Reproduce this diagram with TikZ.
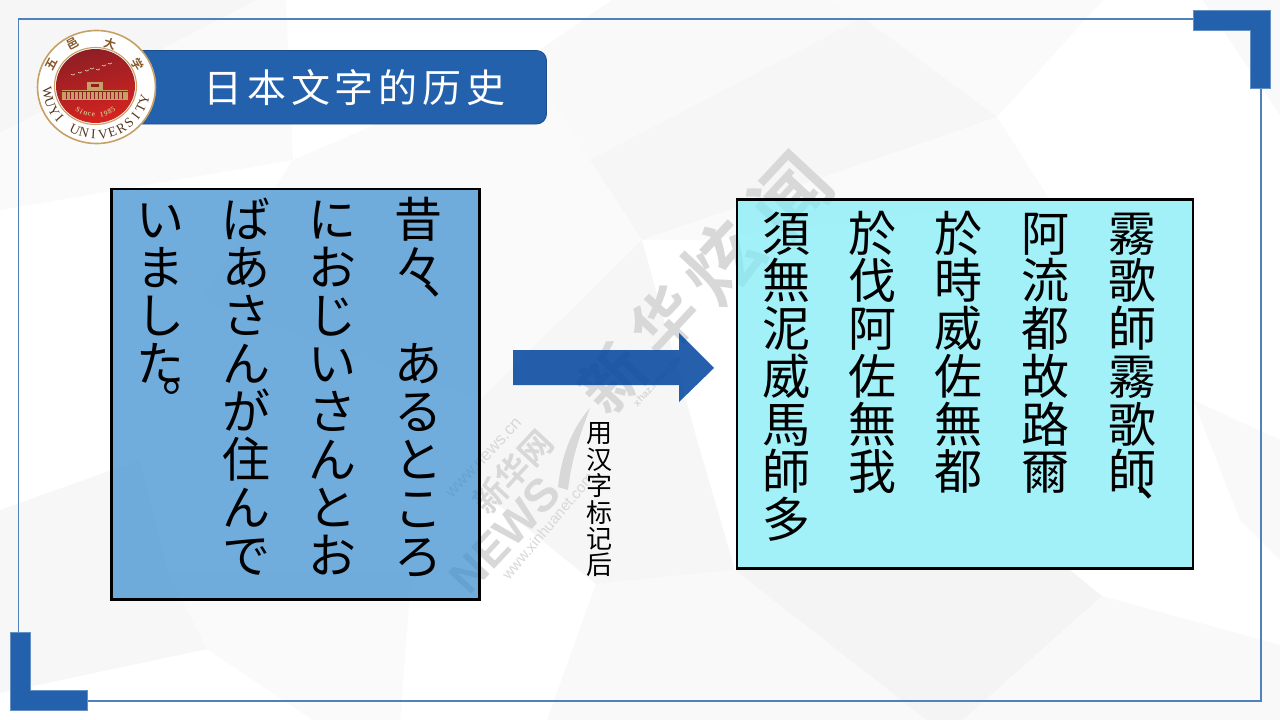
\documentclass[tikz,border=0pt]{standalone}
\usepackage{fontspec}
\usetikzlibrary{calc}
\setmainfont{Liberation Serif}
\newfontfamily\jpfont{Noto Sans CJK JP}
\newfontfamily\cnfont{Noto Sans CJK SC}
\newfontfamily\cnbold{Noto Sans CJK SC Bold}
\newfontfamily\sansfont{Liberation Sans}
\definecolor{blueA}{RGB}{35,97,173}
\definecolor{arrowC}{RGB}{0,68,158}
\definecolor{frameC}{RGB}{79,129,189}
\definecolor{goldC}{RGB}{198,160,100}
\definecolor{wmC}{RGB}{216,216,216}
\definecolor{leftF}{RGB}{54,139,206}
\definecolor{rightF}{RGB}{124,236,246}
\definecolor{redA}{RGB}{142,30,36}
\definecolor{redB}{RGB}{214,36,32}
\tikzset{
  x=1pt,y=-1pt,
  big/.style={inner sep=0pt,outer sep=0pt,text height=42.2pt,text depth=5.8pt,anchor=center,font=\jpfont\fontsize{48}{48}\selectfont,text=black},
  small/.style={inner sep=0pt,outer sep=0pt,text height=22.9pt,text depth=3.1pt,anchor=center,font=\cnfont\fontsize{26}{26}\selectfont,text=black},
  panel/.style={draw=black,line width=2.6pt,inner sep=0pt,outer sep=0pt,fill opacity=.7,draw opacity=1},
  facet/.style={draw=none,fill=#1},
  wm/.style={inner sep=0pt,text=wmC,rotate=47},
  corner/.style={fill=blueA,draw=blueA!70!white,line width=.6pt},
  seal/.style={inner sep=0pt,font=\cnbold\fontsize{12}{12}\selectfont,text=brown!70!black},
}
\newcommand{\vtext}[6]{% name, style, x, y top, step, chars
  \foreach \c [count=\i from 0] in {#6}{
    \node[#2] (#1\i) at (#3,{#4+\i*#5}) {\c};
  }
}
\begin{document}
\begin{tikzpicture}
\useasboundingbox (0,0) rectangle (1280,720);
\fill[white] (0,0) rectangle (1280,720);
% background facets
\fill[facet=black!3.5] (0,0) -- (257,0) -- (0,133) -- cycle;
\fill[facet=black!2] (0,133) -- (257,0) -- (286,0) -- (293,160) -- (0,210) -- cycle;
\fill[facet=black!2.5] (612,0) -- (830,0) -- (997,117) -- (642,240) -- (525,60) -- cycle;
\fill[facet=black!2] (830,0) -- (1103,0) -- (997,117) -- cycle;
\fill[facet=black!3.5] (863,18) -- (997,117) -- (642,240) -- (590,160) -- cycle;
\fill[facet=black!2] (642,240) -- (997,117) -- (1048,197) -- (700,240) -- cycle;
\fill[facet=black!2.5] (1203,0) -- (1280,0) -- (1280,115) -- cycle;
\fill[facet=black!2] (293,160) -- (525,60) -- (642,240) -- (480,400) -- (200,300) -- cycle;
\fill[facet=black!3.5] (480,490) -- (596,584) -- (735,570) -- (697,440) -- (642,240) -- (480,400) -- cycle;
\fill[facet=black!3] (0,510) -- (140,460) -- (167,570) -- (207,649) -- (0,693) -- cycle;
\fill[facet=black!2] (167,570) -- (412,570) -- (400,720) -- (313,720) -- (207,649) -- cycle;
\fill[facet=black!2.5] (547,720) -- (596,584) -- (735,570) -- (927,720) -- cycle;
\fill[facet=black!4.5] (735,570) -- (1070,570) -- (1102,596) -- (963,720) -- (927,720) -- cycle;
\fill[facet=black!2.5] (1102,596) -- (1280,645) -- (1280,720) -- (963,720) -- cycle;
\fill[facet=black!2.5] (1193,400) -- (1280,440) -- (1280,560) -- (1240,520) -- cycle;
% watermark
\node[wm,font=\cnbold\fontsize{64}{64}\selectfont] (wmxin) at (612,378) {新};
\node[wm,font=\cnbold\fontsize{64}{64}\selectfont] (wmhua) at (664,320) {华};
\node[wm,font=\cnbold\fontsize{76}{76}\selectfont] (wmxuan) at (722,262) {炫};
\node[wm,font=\cnbold\fontsize{76}{76}\selectfont] (wmwen) at (790,195) {闻};
\node[wm,font=\sansfont\bfseries\fontsize{10}{10}\selectfont] (wmsub) at (657,381) {xhaz.news.cn};
\node[wm,font=\sansfont\fontsize{17}{17}\selectfont] (wmurla) at (484,458) {www.news.cn};
\node[wm,font=\cnbold\fontsize{33}{33}\selectfont] (wmnet) at (513,472) {新华网};
\node[wm,font=\sansfont\bfseries\fontsize{46}{46}\selectfont] (wmnews) at (505,535) {NEWS};
\node[wm,font=\sansfont\fontsize{15}{15}\selectfont,rotate=3] (wmurlb) at (548,526) {www.xinhuanet.com};
\fill[wmC] (558,487) .. controls (562,450) and (575,425) .. (590,408) .. controls (582,430) and (572,455) .. (568,490) -- cycle;
% frame and corners
\draw[frameC,line width=1.5pt] (18.5,19) rectangle (1261,701);
\fill[corner] (1193,10.5) -- (1270,10.5) -- (1270,88) -- (1250,88) -- (1250,30) -- (1193,30) -- cycle;
\fill[corner] (10,632) -- (30,632) -- (30,690) -- (87,690) -- (87,710) -- (10,710) -- cycle;
% title
\draw[fill=blueA,draw=blueA!80!black,line width=.8pt,rounded corners=10pt] (120,50.5) rectangle (546.5,124);
\node[inner sep=0pt,text=white,font=\cnfont\addfontfeature{LetterSpace=12}\fontsize{39}{39}\selectfont] (title) at (354.5,88) {日本文字的历史};
% logo
\fill[white] (96.5,87) ellipse [x radius=59.5,y radius=57];
\draw[goldC,line width=1.6pt] (96.5,87) ellipse [x radius=59,y radius=56.5];
\draw[goldC,line width=1.1pt] (95.5,86) ellipse [x radius=41,y radius=38.5];
\shade[left color=redA,right color=redB,shading angle=15] (95.5,86) ellipse [x radius=39.5,y radius=37];
\foreach \sx/\sy in {73/75,80/73,87/71,92/69,98/70,104/66,110/64}{
  \draw[goldC!60!white,line width=.7pt] (\sx-2,\sy-.7) -- (\sx,\sy) -- (\sx+2,\sy-1.2);
}
\fill[goldC] (62,90) rectangle (128,100);
\fill[goldC] (87,82) rectangle (103,90);
\foreach \bx in {66,70,...,124}{\draw[redA,line width=.5pt] (\bx,92) -- (\bx,99);}
\draw[redA,line width=.5pt] (62,91) -- (128,91);
\fill[redA] (91,84) rectangle (99,87);
\foreach \ch [count=\k from 0] in {S,i,n,c,e,{},1,9,8,5}{
  \pgfmathsetmacro{\ang}{125-\k*7.8}
  \node[inner sep=0pt,text=goldC!80!white,font=\bfseries\fontsize{7.5}{7.5}\selectfont,rotate={90-\ang}] (since\k) at ({95.5+30.5*cos(\ang)},{86+29*sin(\ang)}) {\ch};
}
\foreach \ch [count=\k from 0] in {W,U,Y,I,{},U,N,I,V,E,R,S,I,T,Y}{
  \pgfmathsetmacro{\ang}{172-\k*11.2}
  \node[inner sep=0pt,text=black!55!brown,font=\fontsize{13.5}{13.5}\selectfont,rotate={90-\ang}] (uni\k) at ({96.5+49.5*cos(\ang)},{87+47.5*sin(\ang)}) {\ch};
}
\node[seal,rotate=62] (s1) at (51.7,64) {五};
\node[seal,rotate=28] (s2) at (73,43.5) {邑};
\node[seal,rotate=-17] (s3) at (110,43.5) {大};
\node[seal,rotate=-60] (s4) at (138,64) {学};
% left panel
\node[panel,fill=leftF,minimum width=368.5pt,minimum height=410.5pt] (leftbox) at (295.5,394.2) {};
\vtext{ca}{big}{418}{219}{48.1}{昔,々}
\node[big] (comma) at (446,276) {、};
\vtext{cb}{big}{418}{363.5}{48.1}{あ,る,と,こ,ろ}
\vtext{cc}{big}{332}{219}{48.1}{に,お,じ,い,さ,ん,と,お}
\vtext{cd}{big}{246}{219}{48.1}{ば,あ,さ,ん,が,住,ん,で}
\vtext{ce}{big}{160}{219}{48.1}{い,ま,し,た}
\node[big] (stop) at (186,373) {。};
% arrow
\fill[arrowC,fill opacity=.85] (513,350) -- (679,350) -- (679,333) -- (714,368) -- (679,402) -- (679,385) -- (513,385) -- cycle;
\vtext{lab}{small}{599}{433}{26.4}{用,汉,字,标,记,后}
% right panel
\node[panel,fill=rightF,minimum width=456pt,minimum height=369.5pt] (rightbox) at (965,384) {};
\vtext{ra}{big}{1132}{233}{47.7}{霧,歌,師,霧,歌,師}
\node[big] (rcomma) at (1159,478) {、};
\vtext{rb}{big}{1045}{233}{47.7}{阿,流,都,故,路,爾}
\vtext{rc}{big}{958}{233}{47.7}{於,時,威,佐,無,都}
\vtext{rd}{big}{872}{233}{47.7}{於,伐,阿,佐,無,我}
\vtext{re}{big}{786}{233}{47.7}{須,無,泥,威,馬,師,多}
\end{tikzpicture}
\end{document}
